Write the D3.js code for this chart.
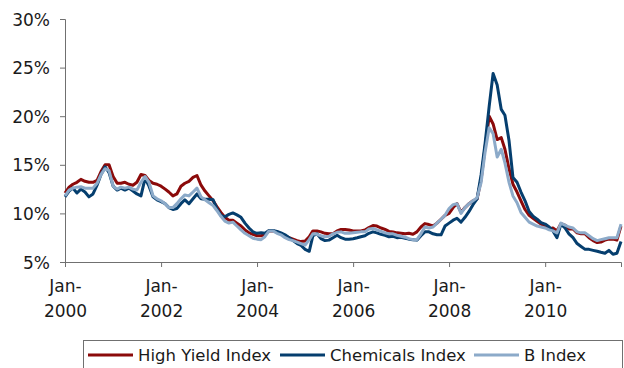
<!DOCTYPE html>
<html>
<head>
<meta charset="utf-8">
<script src="https://cdn.jsdelivr.net/npm/d3@7"></script>
<style>
  body { margin: 0; background: #fff; }
  svg { display: block; }
  text { font-family: "DejaVu Sans", Verdana, sans-serif; fill: #1a1a1a; }
</style>
</head>
<body>
<svg id="chart" width="624" height="368"></svg>
<script>
// Monthly yields (%), Jan 2000 – Aug 2011
const highYield = [
  12.1, 12.7, 13.0, 13.2, 13.5, 13.3, 13.2, 13.2, 13.4, 14.3, 15.0, 15.0,
  13.8, 13.1, 13.1, 13.2, 13.0, 12.9, 13.2, 14.0, 13.9, 13.4, 13.1, 13.0,
  12.8, 12.5, 12.2, 11.8, 12.0, 12.8, 13.1, 13.3, 13.7, 13.9, 12.9, 12.3,
  11.8, 11.3, 10.7, 10.1, 9.6, 9.3, 9.3, 9.0, 8.7, 8.3, 8.0, 7.85,
  7.7, 7.7, 7.8, 8.2, 8.2, 8.1, 7.9, 7.7, 7.5, 7.35, 7.2, 7.1,
  7.15, 7.6, 8.2, 8.2, 8.1, 7.95, 7.9, 7.9, 8.2, 8.35, 8.35, 8.3,
  8.2, 8.2, 8.2, 8.3, 8.55, 8.75, 8.7, 8.5, 8.35, 8.15, 8.1, 8.0,
  7.95, 7.9, 7.95, 7.85, 8.1, 8.6, 8.95, 8.85, 8.7, 9.0, 9.4, 9.8,
  10.0, 10.6, 11.0, 10.1, 10.6, 11.0, 11.3, 11.5, 13.5, 16.8, 20.0, 19.2,
  17.6, 17.8, 16.6, 14.6, 13.0, 12.2, 11.3, 10.4, 9.8, 9.5, 9.2, 8.9,
  8.6, 8.4, 8.5, 8.2, 8.95, 8.8, 8.4, 8.4, 8.0, 7.9, 7.9, 7.5,
  7.2, 7.0, 7.05, 7.25, 7.35, 7.35, 7.25, 8.7
];
const chemicals = [
  11.7, 12.3, 12.6, 12.1, 12.5, 12.2, 11.7, 12.0, 12.9, 14.0, 14.8, 14.2,
  12.8, 12.4, 12.6, 12.4, 12.6, 12.3, 12.0, 11.8, 13.6, 12.8, 11.7, 11.4,
  11.2, 11.0, 10.6, 10.4, 10.5, 11.0, 11.4, 11.0, 11.5, 12.0, 11.5, 11.45,
  11.45, 11.4, 10.5, 9.8, 9.65, 9.9, 10.05, 9.85, 9.6, 9.0, 8.5, 8.1,
  7.95, 8.0, 7.95, 8.25, 8.25, 8.15, 8.0, 7.8, 7.5, 7.2, 6.9, 6.7,
  6.3, 6.1, 7.7, 7.9, 7.4, 7.2, 7.25, 7.5, 7.75, 7.5, 7.35, 7.35,
  7.4, 7.5, 7.6, 7.7, 7.95, 8.1, 8.0, 7.85, 7.75, 7.6, 7.65, 7.5,
  7.55, 7.45, 7.35, 7.3, 7.25, 7.7, 8.1, 8.1, 7.9, 7.8, 7.8, 8.7,
  9.0, 9.3, 9.5, 9.1, 9.6, 10.2, 10.9, 11.5, 14.0, 17.2, 21.0, 24.4,
  23.2, 20.7, 20.1, 17.5, 13.7, 13.2, 12.2, 11.3, 10.2, 9.7, 9.4, 9.05,
  8.9, 8.6, 8.2, 7.5, 8.9, 8.5, 7.9, 7.5, 6.9, 6.6, 6.3, 6.3,
  6.2, 6.1, 6.0, 5.9, 6.2, 5.8, 5.9, 7.1
];
const bIndex = [
  11.8, 12.4, 12.6, 12.7, 12.75, 12.6, 12.6, 12.6, 13.1, 14.0, 14.6, 14.4,
  12.8, 12.5, 12.7, 12.6, 12.7, 12.5, 12.4, 13.2, 13.8, 13.2, 11.8, 11.5,
  11.3, 11.0, 10.6, 10.6, 11.0, 11.5, 11.9, 11.8, 12.2, 12.6, 11.7, 11.4,
  11.1, 10.8, 10.3, 9.7, 9.2, 9.0, 9.1, 8.7, 8.3, 7.95, 7.7, 7.45,
  7.35, 7.3, 7.6, 8.2, 8.2, 7.95, 7.8, 7.5, 7.3, 7.2, 7.05, 6.9,
  6.75, 7.3, 7.9, 7.85, 7.7, 7.6, 7.65, 7.9, 8.05, 8.1, 7.95, 7.95,
  8.0, 8.05, 8.1, 8.1, 8.4, 8.45, 8.3, 8.15, 8.0, 7.9, 7.9, 7.75,
  7.65, 7.55, 7.4, 7.3, 7.3, 7.9, 8.6, 8.5, 8.6, 9.0, 9.4, 9.8,
  10.5, 10.9, 11.0, 10.0, 10.6, 11.0, 11.3, 11.6, 13.2, 16.3, 18.8, 18.2,
  15.8, 16.6, 15.2, 13.2, 11.8, 11.1, 10.1, 9.6, 9.1, 8.9, 8.7, 8.6,
  8.5, 8.3, 8.2, 8.0, 9.0, 8.8, 8.6, 8.5, 8.1, 8.0, 8.0, 7.7,
  7.4, 7.2, 7.3, 7.4, 7.5, 7.5, 7.5, 8.9
];
const seriesNames = ["High Yield Index", "Chemicals Index", "B Index"];
const seriesColors = ["#8b0a0a", "#053e6e", "#8caac9"];
const yTicks = [5, 10, 15, 20, 25, 30];
const xTickYears = [2000, 2002, 2004, 2006, 2008, 2010];

const svg = d3.select("#chart");
const months = d3.range(highYield.length).map(i => new Date(2000, i, 1));

const x = d3.scaleTime()
  .domain([months[0], months[months.length - 1]])
  .range([65, 621]);
const y = d3.scaleLinear().domain([5, 30]).range([262, 19]);

// y axis
const yAxis = svg.append("g")
  .attr("transform", "translate(65,0)")
  .call(d3.axisLeft(y).tickValues(yTicks).tickSize(5).tickPadding(10)
    .tickFormat(d => d + "%"));
yAxis.selectAll("text").style("font-size", "17px").attr("dy", "0.36em");

// x axis, two-line labels every second January
const xAxis = svg.append("g")
  .attr("transform", "translate(0,262)")
  .call(d3.axisBottom(x).tickValues(xTickYears.map(yr => new Date(yr, 0, 1)))
    .tickSize(5).tickFormat(""));
xAxis.selectAll(".tick").append("text")
  .style("font-size", "17px")
  .attr("text-anchor", "middle")
  .attr("fill", "#1a1a1a")
  .selectAll("tspan")
  .data(d => ["Jan-", String(d.getFullYear())])
  .join("tspan")
  .attr("x", 0)
  .attr("y", (d, i) => 30 + i * 25)
  .text(d => d);

svg.selectAll(".domain, .tick line").attr("stroke", "#707070");

// series lines
const line = d3.line()
  .x((d, i) => x(months[i]))
  .y(d => y(d));
const series = [highYield, chemicals, bIndex];
svg.append("g").selectAll("path")
  .data(series)
  .join("path")
  .attr("d", line)
  .attr("fill", "none")
  .attr("stroke", (d, i) => seriesColors[i])
  .attr("stroke-width", 3)
  .attr("stroke-linejoin", "round");

// legend
const legend = svg.append("g");
legend.append("rect")
  .attr("x", 83.5).attr("y", 340.5)
  .attr("width", 539).attr("height", 40)
  .attr("fill", "#fff").attr("stroke", "#707070");
const legendX = [88, 280, 474];
const items = legend.selectAll("g.item")
  .data(seriesNames)
  .join("g")
  .attr("class", "item")
  .attr("transform", (d, i) => `translate(${legendX[i]},355)`);
items.append("line")
  .attr("x1", 0).attr("x2", 45)
  .attr("stroke", (d, i) => seriesColors[i])
  .attr("stroke-width", 3);
items.append("text")
  .attr("x", 50).attr("y", 6)
  .style("font-size", "16.5px")
  .text(d => d);
</script>
</body>
</html>
